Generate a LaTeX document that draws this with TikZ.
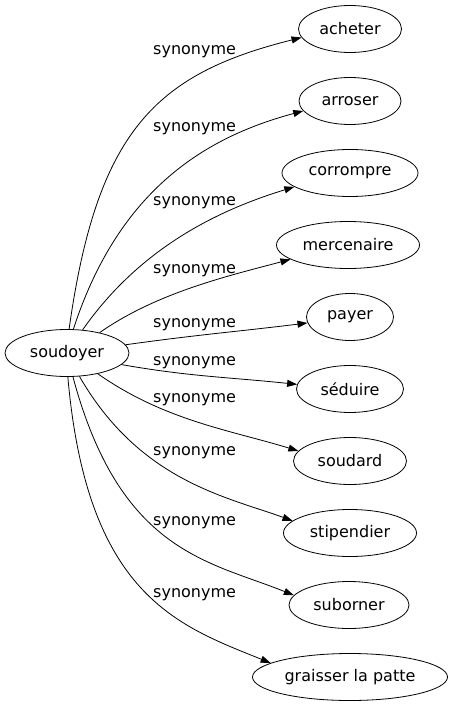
\documentclass[tikz,border=0pt]{standalone}
\usepackage{fontspec}
\setmainfont{DejaVu Sans}
\usetikzlibrary{positioning, arrows.meta, shapes}

\begin{document}
\begin{tikzpicture}[x=1bp, y=1bp]
\tikzstyle{word}=[ellipse, draw=black, line width=0.8bp, inner sep=0pt, minimum height=47bp,
        text=black, font=\fontsize{16bp}{19bp}\selectfont]
\tikzstyle{tag}=[anchor=base west, inner sep=0pt, text=black, font=\fontsize{16bp}{19bp}\selectfont]
\tikzstyle{syn}=[-{Triangle[length=10bp, width=7bp]}, line width=0.8bp]

\def \x {350}
\def \y {-72}

\useasboundingbox (0,0) rectangle (450,-707);

    \node (soud) [word, minimum width=124bp] at (67,-353) {soudoyer};

    \node (ach) [word, minimum width=103bp] at (\x,-29) {acheter};
    \node (arr) [word, minimum width=102bp] at (\x,-29+\y) {arroser};
    \node (cor) [word, minimum width=136bp] at (\x,-29+2*\y) {corrompre};
    \node (mer) [word, minimum width=143bp] at (\x-2,-29+3*\y) {mercenaire};
    \node (pay) [word, minimum width=87bp] at (\x,-29+4*\y) {payer};
    \node (sed) [word, minimum width=107bp] at (\x,-29+5*\y) {séduire};
    \node (sda) [word, minimum width=113bp] at (\x,-29+6*\y) {soudard};
    \node (sti) [word, minimum width=133bp] at (\x,-29+7*\y) {stipendier};
    \node (sub) [word, minimum width=120bp] at (\x-1,-29+8*\y) {suborner};
    \node (gra) [word, minimum width=195bp] at (\x,-29+9*\y) {graisser la patte};

    % edge labels
    \node (l1) [tag] at (153,-55) {synonyme};
    \node (l2) [tag] at (153,-132) {synonyme};
    \node (l3) [tag] at (153,-205) {synonyme};
    \node (l4) [tag] at (153,-273) {synonyme};
    \node (l5) [tag] at (153,-327) {synonyme};
    \node (l6) [tag] at (153,-365) {synonyme};
    \node (l7) [tag] at (153,-402) {synonyme};
    \node (l8) [tag] at (153,-455) {synonyme};
    \node (l9) [tag] at (153,-525) {synonyme};
    \node (l10) [tag] at (153,-597) {synonyme};

\path[syn](soud.85) edge[out=82, in=194, out looseness=1.37, in looseness=1.03] (ach.190);
\path[syn](soud.75) edge[out=72, in=195, out looseness=1.2, in looseness=0.8] (arr.192);
\path[syn](soud.56) edge[out=55, in=197, out looseness=1.0, in looseness=0.8] (cor.194);
\path[syn](soud.32) edge[out=35, in=195, out looseness=0.89, in looseness=0.76] (mer.194);
\path[syn](soud.8) edge[out=8, in=187] (pay.188);
\path[syn](soud.-12) edge[out=-10, in=174] (sed.175);
\path[syn](soud.-34) edge[out=-35, in=163, out looseness=0.97, in looseness=0.85] (sda.169);
\path[syn](soud.-62) edge[out=-60, in=160, out looseness=1.2, in looseness=0.7] (sti.168);
\path[syn](soud.-76) edge[out=-75, in=158, out looseness=1.5, in looseness=0.75] (sub.170);
\path[syn](soud.-88) edge[out=-85, in=158, out looseness=1.6, in looseness=0.73] (gra.170);

\end{tikzpicture}
\end{document}
